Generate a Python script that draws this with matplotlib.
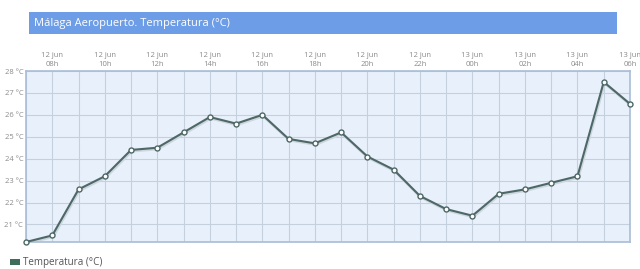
import matplotlib
matplotlib.use("Agg")
import matplotlib.pyplot as plt
from matplotlib.patches import Rectangle
from matplotlib.transforms import ScaledTranslation

plt.rcParams['font.family'] = ['Open Sans', 'DejaVu Sans']

# hourly readings, 12 jun 07h .. 13 jun 06h
hours = ["07h", "08h", "09h", "10h", "11h", "12h", "13h", "14h", "15h", "16h",
         "17h", "18h", "19h", "20h", "21h", "22h", "23h", "00h", "01h", "02h",
         "03h", "04h", "05h", "06h"]
days = ["12 jun"] * 17 + ["13 jun"] * 7
temps = [20.2, 20.5, 22.6, 23.2, 24.4, 24.5, 25.2, 25.9, 25.6, 26.0,
         24.9, 24.7, 25.2, 24.1, 23.5, 22.3, 21.7, 21.4, 22.4, 22.6,
         22.9, 23.2, 27.5, 26.5]
yticks = [21, 22, 23, 24, 25, 26, 27, 28]

W, H = 640, 269
fig = plt.figure(figsize=(W / 100, H / 100), dpi=100)
fig.patch.set_facecolor("white")

ax = fig.add_axes([26 / W, (H - 242) / H, (630 - 26) / W, (242 - 71) / H])
ax.set_facecolor("#e8f0fb")

x = list(range(len(temps)))
# soft shadow under the line
shadow = ax.transData + ScaledTranslation(0.8 / 100, -1.2 / 100, fig.dpi_scale_trans)
ax.plot(x, temps, color="#cdd6df", lw=2, zorder=2, transform=shadow)
ax.plot(x, temps, color="#4e6866", lw=1.5, marker="o", ms=3.6,
        mfc="white", mec="#4e6866", mew=1.0, zorder=3, clip_on=False)

ax.set_xlim(0, len(temps) - 1)
ax.set_ylim(20.2, 28)

# top tick labels every 2 hours, grid every hour
ax.xaxis.tick_top()
ax.set_xticks(x)
ax.set_xticklabels([f"{d}\n{h}" if i % 2 == 1 else "" for i, (d, h) in enumerate(zip(days, hours))],
                   fontsize=5.5, color="#8a8a8a", linespacing=1.4)
ax.set_yticks(yticks)
ax.set_yticklabels([f"{t} °C" for t in yticks], fontsize=5.5, color="#8a8a8a")
ax.tick_params(length=0, pad=2)
ax.grid(True, color="#c5d0de", lw=0.8)
ax.set_axisbelow(True)
for s in ax.spines.values():
    s.set_color("#a9bdd6")
    s.set_linewidth(1.2)

# title bar
fig.patches.append(Rectangle((29 / W, (H - 34) / H), (617 - 29) / W, 22 / H,
                             transform=fig.transFigure, facecolor="#6c9de6",
                             edgecolor="none", zorder=0))
fig.text(34 / W, (H - 23) / H, "Málaga Aeropuerto. Temperatura (°C)",
         color="white", fontsize=8, va="center", ha="left")

# legend
fig.patches.append(Rectangle((10 / W, (H - 265) / H), 10 / W, 6 / H,
                             transform=fig.transFigure, facecolor="#3e6d5b",
                             edgecolor="none"))
fig.text(23 / W, (H - 262) / H, "Temperatura (°C)", color="#555555",
         fontsize=7.1, va="center", ha="left")

fig.savefig("out.png", dpi=100)
